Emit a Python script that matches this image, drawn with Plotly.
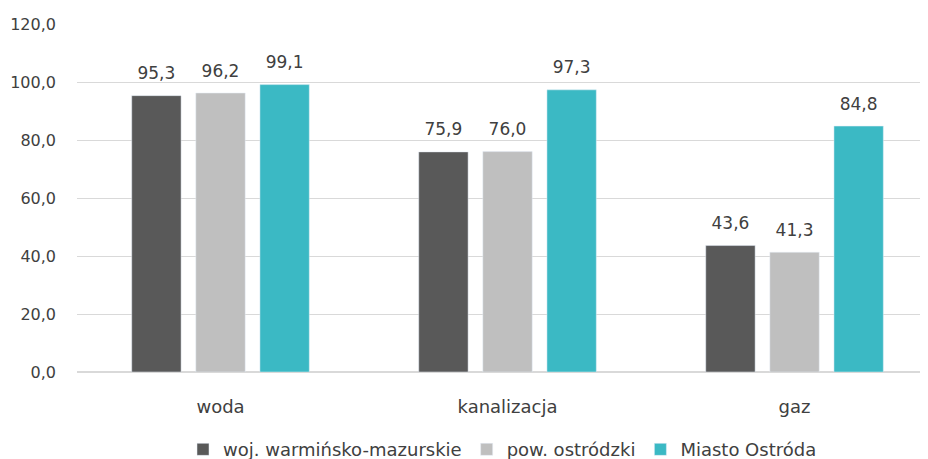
import plotly.graph_objects as go

categories = ["woda", "kanalizacja", "gaz"]
series_names = ["woj. warmińsko-mazurskie", "pow. ostródzki", "Miasto Ostróda"]
woj = [95.3, 75.9, 43.6]
pow_ = [96.2, 76.0, 41.3]
miasto = [99.1, 97.3, 84.8]
colors = ["#595959", "#bfbfbf", "#3bb9c4"]
tick_vals = [0, 20, 40, 60, 80, 100, 120]
tick_text = ["0,0", "20,0", "40,0", "60,0", "80,0", "100,0", "120,0"]

font_family = "DejaVu Sans, sans-serif"
fig = go.Figure()
for k, (name, vals, col) in enumerate(zip(series_names, [woj, pow_, miasto], colors)):
    fig.add_trace(go.Bar(
        x=categories, y=vals, name=name, marker_color=col,
        offsetgroup=str(k), hoverinfo="skip",
    ))
for k, vals in enumerate([woj, pow_, miasto]):
    fig.add_trace(go.Scatter(
        x=categories, y=vals, mode="markers+text", offsetgroup=str(k),
        text=[f"{v:.1f}".replace(".", ",") for v in vals],
        textposition="top center", cliponaxis=False, showlegend=False,
        marker=dict(size=18, color="rgba(0,0,0,0)"),
        textfont=dict(size=17, color="#404040", family=font_family),
    ))

fig.update_layout(
    width=920, height=451,
    margin=dict(l=69, r=0, t=16, b=87, autoexpand=False),
    paper_bgcolor="white", plot_bgcolor="white",
    barmode="group", scattermode="group", bargap=0.33, bargroupgap=0.23,
    font=dict(family=font_family, size=16, color="#404040"),
    showlegend=True,
    legend=dict(orientation="h", x=0.5, xanchor="center", y=-0.17, yanchor="top",
                font=dict(size=18, color="#404040"), traceorder="normal",
                tracegroupgap=0, itemwidth=30),
    xaxis=dict(range=[-0.5, 2.465], showline=False, ticks="", automargin=False,
               ticklabelstandoff=22, tickfont=dict(size=18)),
    yaxis=dict(range=[0, 120], tickvals=tick_vals, ticktext=tick_text, automargin=False,
               showgrid=True, gridcolor="#d9d9d9", gridwidth=1, zeroline=True,
               zerolinecolor="#d9d9d9", ticks="", ticklabelstandoff=20,
               tickfont=dict(size=16)),
)
fig.write_html("out.html")
